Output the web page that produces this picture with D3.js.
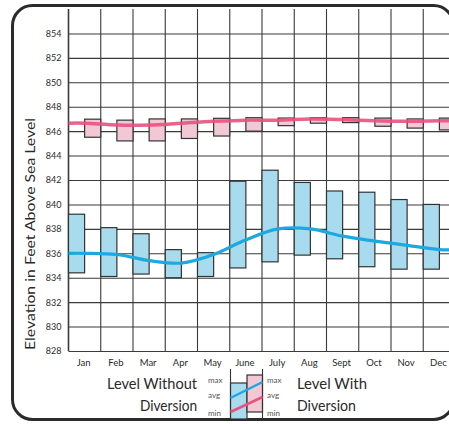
<!DOCTYPE html>
<html>
<head>
<meta charset="utf-8">
<script src="https://cdn.jsdelivr.net/npm/d3@7"></script>
<style>
  html, body { margin: 0; padding: 0; background: #fff; }
  svg { display: block; }
  text { font-family: "Lato", "Open Sans", sans-serif; fill: #2a2a2a; }
</style>
</head>
<body>
<div class="container"></div>
<script>
// months along the bottom
const months = ["Jan", "Feb", "Mar", "Apr", "May", "June", "July", "Aug", "Sept", "Oct", "Nov", "Dec"];

// level without diversion (blue)
const withoutMax = [839.2, 838.1, 837.6, 836.3, 836.05, 841.9, 842.8, 841.8, 841.1, 841.0, 840.4, 840.0];
const withoutMin = [834.4, 834.1, 834.3, 834.0, 834.1, 834.8, 835.3, 835.85, 835.55, 834.9, 834.7, 834.7];
const withoutAvg = [836.0, 835.9, 835.4, 835.2, 835.9, 837.1, 838.0, 838.0, 837.4, 837.0, 836.65, 836.3];

// level with diversion (pink)
const withMax = [846.98, 846.9, 847.0, 847.0, 847.05, 847.1, 847.07, 847.1, 847.1, 847.07, 847.0, 847.07];
const withMin = [845.5, 845.2, 845.2, 845.4, 845.6, 846.0, 846.45, 846.65, 846.7, 846.4, 846.25, 846.1];
const withAvg = [846.65, 846.5, 846.5, 846.65, 846.8, 846.9, 846.9, 847.0, 846.95, 846.85, 846.8, 846.85];

// y tick labels
const yTicks = d3.range(828, 856, 2);

const w = 449;
const h = 424;

const svg = d3.select(".container")
              .append("svg")
              .attr("width", w)
              .attr("height", h);

/* scales */
const xScale = d3.scaleBand()
                 .domain(months)
                 .range([68.5, 455.5])
                 .paddingInner(0)
                 .paddingOuter(0);
const bw = xScale.bandwidth();

const yScale = d3.scaleLinear()
                 .domain([828, 856])
                 .range([351, 9]);

/* rounded frame */
svg.append("rect")
   .attr("x", 12.5)
   .attr("y", 5.5)
   .attr("width", 441)
   .attr("height", 414)
   .attr("rx", 20)
   .attr("fill", "none")
   .attr("stroke", "#2b2b2b")
   .attr("stroke-width", 3);

/* horizontal grid + y labels */
const yAxis = d3.axisLeft(yScale)
                .tickValues(yTicks)
                .tickFormat(d3.format("d"))
                .tickSize(-(455.5 - 68.5))
                .tickSizeOuter(0)
                .tickPadding(7);

const gy = svg.append("g")
   .attr("id", "y-axis")
   .attr("transform", "translate(68.5,0)")
   .call(yAxis);
gy.select(".domain").remove();
gy.selectAll(".tick line").attr("stroke", "#3a3a3a").attr("stroke-width", 1.1);
gy.selectAll(".tick text").attr("font-size", 9).attr("fill", "#444")
  .style("font-family", "Lato, sans-serif");

/* vertical grid at month boundaries */
const edges = months.map(m => xScale(m)).concat([xScale.range()[1]]);
svg.append("g")
   .selectAll("line")
   .data(edges)
   .enter()
   .append("line")
   .attr("x1", d => d)
   .attr("x2", d => d)
   .attr("y1", yScale(856))
   .attr("y2", yScale(828))
   .attr("stroke", "#3a3a3a")
   .attr("stroke-width", (d, i) => i === 0 ? 1.6 : 1.1);

/* x labels */
const xAxis = d3.axisBottom(xScale)
                .tickSize(0)
                .tickPadding(8);
const gx = svg.append("g")
   .attr("id", "x-axis")
   .attr("transform", "translate(-1," + yScale(828) + ")")
   .call(xAxis);
gx.select(".domain").remove();
gx.selectAll(".tick text").attr("font-size", 9.5).attr("fill", "#333");

/* bars without diversion: left half of each month */
svg.append("g")
   .selectAll("rect")
   .data(months)
   .enter()
   .append("rect")
   .attr("x", d => xScale(d))
   .attr("y", (d, i) => yScale(withoutMax[i]))
   .attr("width", bw / 2)
   .attr("height", (d, i) => yScale(withoutMin[i]) - yScale(withoutMax[i]))
   .attr("fill", "#a9dbee")
   .attr("stroke", "#333")
   .attr("stroke-width", 1.2);

/* boxes with diversion: right half of each month */
svg.append("g")
   .selectAll("rect")
   .data(months)
   .enter()
   .append("rect")
   .attr("x", d => xScale(d) + bw / 2)
   .attr("y", (d, i) => yScale(withMax[i]))
   .attr("width", bw / 2)
   .attr("height", (d, i) => yScale(withMin[i]) - yScale(withMax[i]))
   .attr("fill", "#f3c8d5")
   .attr("stroke", "#333")
   .attr("stroke-width", 1.2);

/* average lines, held flat out to the plot edges */
const avgPoints = vals => {
    const pts = months.map((m, i) => [xScale(m) + bw / 2, yScale(vals[i])]);
    pts.unshift([xScale.range()[0], yScale(vals[0])]);
    pts.push([xScale.range()[1], yScale(vals[vals.length - 1])]);
    return pts;
};
const line = d3.line().curve(d3.curveCatmullRom.alpha(0.5));

svg.append("path")
   .attr("d", line(avgPoints(withAvg)))
   .attr("fill", "none")
   .attr("stroke", "#e8527f")
   .attr("stroke-width", 3.5)
   .attr("stroke-opacity", 0.9);

svg.append("path")
   .attr("d", line(avgPoints(withoutAvg)))
   .attr("fill", "none")
   .attr("stroke", "#1ba9df")
   .attr("stroke-width", 3.2);

/* y title */
svg.append("text")
   .attr("transform", "translate(35,234) rotate(-90)")
   .attr("text-anchor", "middle")
   .attr("font-size", 13.5)
   .attr("textLength", 232)
   .attr("lengthAdjust", "spacingAndGlyphs")
   .text("Elevation in Feet Above Sea Level");

/* legend */
const lg = svg.append("g");
lg.append("text").attr("x", 197).attr("y", 389).attr("text-anchor", "end")
  .attr("font-size", 15.5).attr("textLength", 90).attr("lengthAdjust", "spacingAndGlyphs")
  .text("Level Without");
lg.append("text").attr("x", 197).attr("y", 411).attr("text-anchor", "end")
  .attr("font-size", 15.5).attr("textLength", 57).attr("lengthAdjust", "spacingAndGlyphs")
  .text("Diversion");
lg.append("text").attr("x", 297).attr("y", 389)
  .attr("font-size", 15.5).attr("textLength", 70).attr("lengthAdjust", "spacingAndGlyphs")
  .text("Level With");
lg.append("text").attr("x", 297).attr("y", 411)
  .attr("font-size", 15.5).attr("textLength", 59).attr("lengthAdjust", "spacingAndGlyphs")
  .text("Diversion");

const keyLabels = ["max", "avg", "min"];
const keyY = [383, 398, 416];
[208, 267].forEach(kx => {
    lg.selectAll(null)
      .data(keyLabels)
      .enter()
      .append("text")
      .attr("x", kx)
      .attr("y", (d, i) => keyY[i])
      .attr("font-size", 8)
      .style("fill", "#555")
      .text(d => d);
});

lg.append("rect").attr("x", 230.5).attr("y", 383).attr("width", 16.5).attr("height", 36)
  .attr("fill", "#a9dbee").attr("stroke", "#333").attr("stroke-width", 1.2);
lg.append("rect").attr("x", 247).attr("y", 375).attr("width", 15.5).attr("height", 37)
  .attr("fill", "#f3c8d5").attr("stroke", "#333").attr("stroke-width", 1.2);
[230.5, 262.5].forEach(lx => {
    lg.append("line").attr("x1", lx).attr("x2", lx).attr("y1", 369).attr("y2", 419)
      .attr("stroke", "#333").attr("stroke-width", 1.1);
});
lg.append("line").attr("x1", 230.5).attr("y1", 398).attr("x2", 262.5).attr("y2", 382)
  .attr("stroke", "#1ba9df").attr("stroke-width", 2.5);
lg.append("line").attr("x1", 230.5).attr("y1", 412).attr("x2", 262.5).attr("y2", 397)
  .attr("stroke", "#e8527f").attr("stroke-width", 2.5);
</script>
</body>
</html>
